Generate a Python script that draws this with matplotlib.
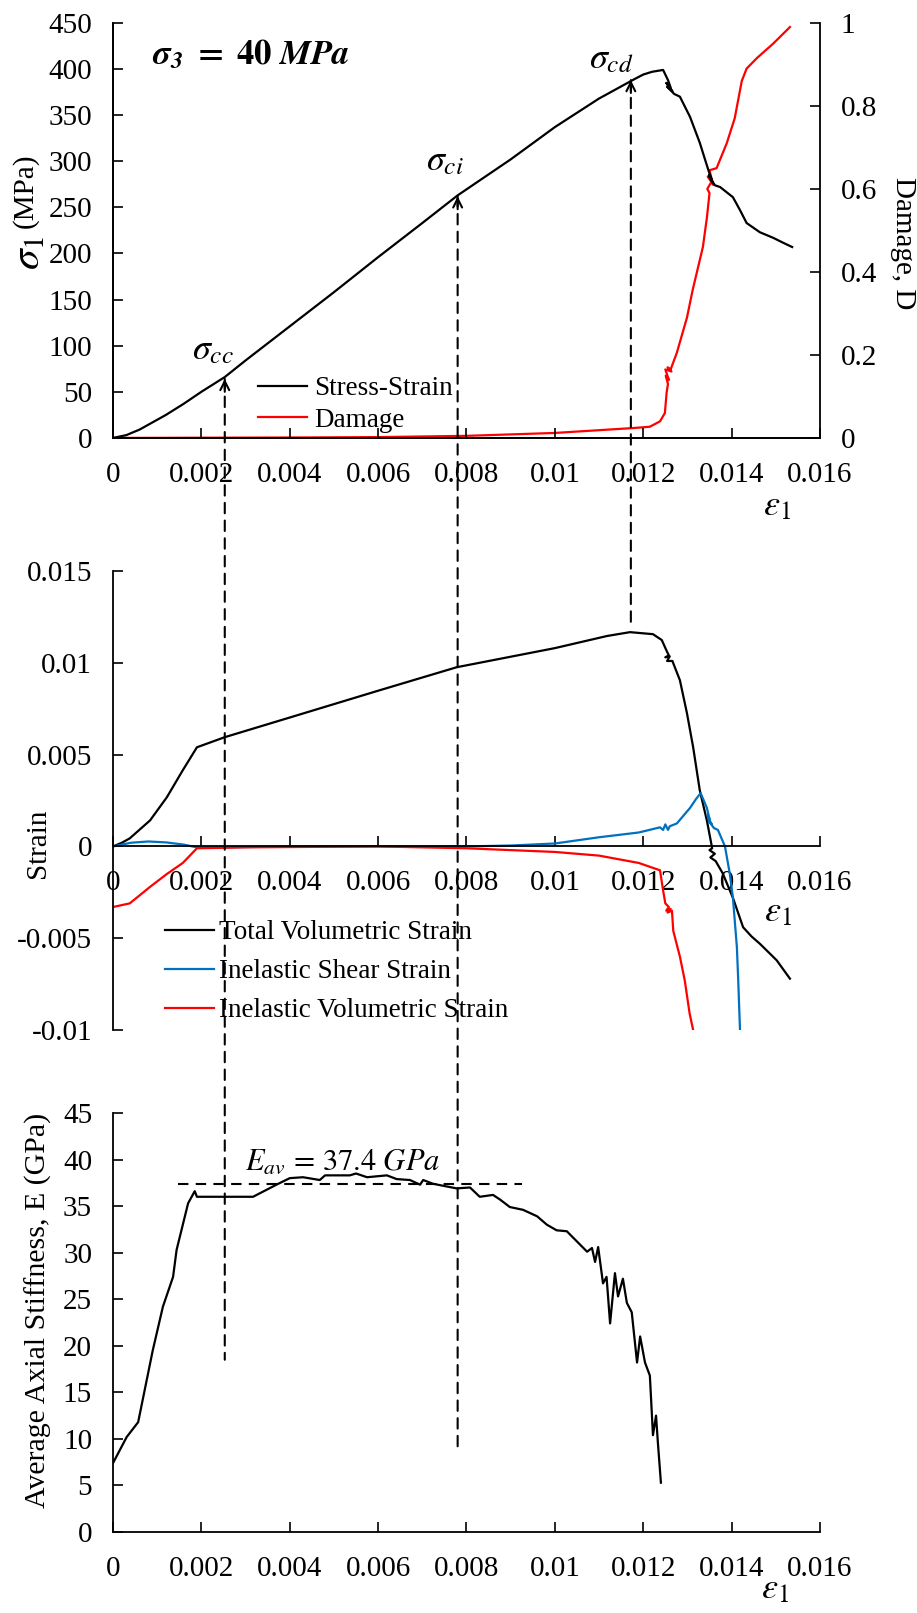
import matplotlib
matplotlib.use("Agg")
import matplotlib.pyplot as plt
from matplotlib.patches import ConnectionPatch

plt.rcParams['font.family'] = ['Liberation Serif', 'DejaVu Serif']
plt.rcParams['mathtext.fontset'] = 'stix'

# ---- top panel: stress-strain and damage ----
stress_eps = [0, 0.0003, 0.0006, 0.0009, 0.0012, 0.0016, 0.002, 0.00253, 0.003, 0.004, 0.005,
              0.006, 0.007, 0.0078, 0.009, 0.01, 0.011, 0.0118, 0.012, 0.0122, 0.01245,
              0.01256, 0.01262, 0.01252, 0.01266, 0.01254, 0.0127, 0.01283, 0.01306, 0.01328,
              0.01347, 0.01355, 0.01349, 0.01358, 0.0135, 0.01362, 0.01374, 0.01403, 0.01419,
              0.01434, 0.01464, 0.01494, 0.01515, 0.01537]
stress = [0, 3, 9, 17, 25, 37, 50, 66, 84, 121, 158, 196, 233, 263, 302, 337, 368, 389, 394,
          397, 399, 388, 380, 385, 376, 381, 373, 370, 348, 320, 291, 280, 285, 276, 283, 274,
          272, 261, 247, 233, 223, 217, 212, 207]

damage_eps = [0, 0.002, 0.004, 0.006, 0.008, 0.01, 0.0118, 0.01215, 0.01238, 0.01249, 0.01253,
              0.01256, 0.01251, 0.01258, 0.0125, 0.01264, 0.01255, 0.01262, 0.01276, 0.01299,
              0.01312, 0.01335, 0.01344, 0.0135, 0.01345, 0.01356, 0.01346, 0.01358, 0.0135,
              0.01366, 0.01389, 0.01407, 0.01423, 0.01434, 0.01457, 0.01494, 0.01532]
damage = [0, 0.0005, 0.001, 0.002, 0.005, 0.012, 0.024, 0.027, 0.04, 0.06, 0.11, 0.13, 0.15,
          0.14, 0.165, 0.16, 0.17, 0.165, 0.205, 0.29, 0.357, 0.46, 0.53, 0.59, 0.6, 0.62, 0.63,
          0.61, 0.645, 0.65, 0.71, 0.77, 0.86, 0.89, 0.915, 0.95, 0.99]

# ---- middle panel: strains ----
totvol_eps = [0, 0.0002, 0.00038, 0.00084, 0.00122, 0.00158, 0.0019, 0.00253, 0.004, 0.006,
              0.00778, 0.01, 0.01118, 0.0117, 0.01222, 0.01242, 0.01252, 0.01258, 0.0125,
              0.0126, 0.01254, 0.01266, 0.01283, 0.01299, 0.01313, 0.01328, 0.01344, 0.01356,
              0.0135, 0.01362, 0.01352, 0.01364, 0.0138, 0.01403, 0.01426, 0.01445, 0.01464,
              0.01502, 0.01532]
totvol = [0, 0.0002, 0.00044, 0.00142, 0.00268, 0.00415, 0.0054, 0.00595, 0.00702, 0.00848,
          0.00976, 0.0108, 0.01146, 0.01167, 0.01156, 0.01124, 0.0107, 0.0104, 0.0103, 0.01035,
          0.0101, 0.0101, 0.00905, 0.00725, 0.0054, 0.00305, 0.00142, -0.0001, -0.0002, -0.0004,
          -0.0006, -0.0008, -0.00147, -0.0028, -0.0044, -0.0049, -0.0053, -0.0062, -0.0072]

shear_eps = [0, 0.0004, 0.0008, 0.0012, 0.0016, 0.0019, 0.0025, 0.004, 0.006, 0.008, 0.009, 0.01,
             0.011, 0.0119, 0.01238, 0.01245, 0.0125, 0.01256, 0.0126, 0.01276, 0.01306, 0.0132,
             0.0133, 0.01344, 0.0135, 0.01345, 0.01355, 0.01348, 0.0136, 0.01369, 0.01385,
             0.01396, 0.01403, 0.01412, 0.01415, 0.01419]
shear = [0, 0.0002, 0.00027, 0.00022, 0.0001, -0.00005, -0.00005, 0, 0, 0, 0.00005, 0.00016,
         0.0005, 0.00076, 0.00104, 0.0009, 0.0012, 0.0009, 0.0011, 0.00125, 0.0021, 0.0026,
         0.0029, 0.0021, 0.0015, 0.0017, 0.0012, 0.0014, 0.001, 0.0009, 0, -0.0015, -0.0028,
         -0.0055, -0.0073, -0.01]

inelvol_eps = [0, 0.00038, 0.00084, 0.00122, 0.00158, 0.00186, 0.0019, 0.003, 0.006, 0.008,
               0.01, 0.011, 0.0119, 0.01238, 0.01245, 0.0125, 0.01258, 0.01252, 0.01262,
               0.01255, 0.01265, 0.01268, 0.01283, 0.01294, 0.01305, 0.01313]
inelvol = [-0.0033, -0.0031, -0.0022, -0.0015, -0.0009, -0.0002, -0.0001, -0.00005, 0, -0.0001,
           -0.0003, -0.0005, -0.0009, -0.0013, -0.0024, -0.0031, -0.0033, -0.0035, -0.0034,
           -0.0036, -0.0035, -0.0046, -0.006, -0.0073, -0.0091, -0.01]

# ---- bottom panel: average axial stiffness ----
stiff_eps = [0, 0.00031, 0.00057, 0.0009, 0.00113, 0.00136, 0.00144, 0.0017, 0.00185, 0.0019,
             0.0025, 0.00317, 0.0037, 0.004, 0.0043, 0.00468, 0.0048, 0.00536, 0.0055, 0.00575,
             0.0062, 0.00642, 0.00672, 0.00695, 0.00702, 0.00724, 0.00756, 0.00778, 0.00808,
             0.0083, 0.0086, 0.00876, 0.00898, 0.00928, 0.0096, 0.00982, 0.01004, 0.01027,
             0.0105, 0.01073, 0.01084, 0.01091, 0.01098, 0.01109, 0.01117, 0.01125, 0.01136,
             0.01143, 0.01154, 0.01163, 0.01174, 0.01186, 0.01193, 0.01204, 0.01215, 0.01222,
             0.01229, 0.01233, 0.0124]
stiffness = [7.4, 10.2, 11.8, 19.5, 24.2, 27.4, 30.3, 35.3, 36.6, 36.0, 36.0, 36.0, 37.3, 38.0,
             38.1, 37.8, 38.3, 38.3, 38.5, 38.1, 38.3, 37.9, 37.8, 37.3, 37.8, 37.4, 37.1, 36.9,
             37.0, 36.0, 36.2, 35.7, 34.9, 34.6, 33.9, 33.0, 32.4, 32.3, 31.2, 30.1, 30.5, 29.0,
             30.6, 26.7, 27.4, 22.4, 27.8, 25.3, 27.2, 24.6, 23.6, 18.2, 21.0, 18.2, 16.8, 10.4,
             12.5, 9.7, 5.3]

# thresholds (strain at cc, ci, cd) and where their dashed lines start / end
thr_eps = [0.00253, 0.0078, 0.01172]
thr_stress = [64, 262, 388]
thr_labels = [r'$\sigma_{cc}$', r'$\sigma_{ci}$', r'$\sigma_{cd}$']
thr_label_xy = [(0.00226, 95), (0.00751, 299), (0.01127, 410)]
E_av = 37.4
E_av_span = [0.00147, 0.00925]

xticks = [0, 0.002, 0.004, 0.006, 0.008, 0.01, 0.012, 0.014, 0.016]
xticklabels = ['0', '0.002', '0.004', '0.006', '0.008', '0.01', '0.012', '0.014', '0.016']

FS = 19.5     # legend text
TFS = 21      # tick labels / axis labels
MFS = 26      # math annotations
LW = 1.6

fig = plt.figure(figsize=(9.17, 16.13), dpi=100)
ax1 = fig.add_axes([0.1232, 0.7285, 0.7710, 0.2573])
ax2 = fig.add_axes([0.1232, 0.3614, 0.7710, 0.2846])
ax3 = fig.add_axes([0.1232, 0.0502, 0.7710, 0.2598])


def style(ax):
    ax.set_xlim(0, 0.016)
    ax.set_xticks(xticks)
    ax.set_xticklabels(xticklabels)
    ax.spines['top'].set_visible(False)
    ax.spines['right'].set_visible(False)
    for s in ax.spines.values():
        s.set_linewidth(1.3)
    ax.tick_params(axis='both', direction='in', length=7, width=1.2, labelsize=TFS)
    ax.tick_params(axis='x', pad=17)
    ax.tick_params(axis='y', pad=15)


# top panel
style(ax1)
ax1.set_ylim(0, 450)
ax1.set_yticks(range(0, 451, 50))
l1, = ax1.plot(stress_eps, stress, color='black', lw=LW, label='Stress-Strain')
axr = ax1.twinx()
axr.set_ylim(0, 1)
axr.set_yticks([0, 0.2, 0.4, 0.6, 0.8, 1])
axr.set_yticklabels(['0', '0.2', '0.4', '0.6', '0.8', '1'])
axr.spines['top'].set_visible(False)
for s in axr.spines.values():
    s.set_linewidth(1.3)
axr.tick_params(axis='y', direction='in', length=7, width=1.2, labelsize=TFS, pad=15)
l2, = axr.plot(damage_eps, damage, color='red', lw=LW, label='Damage')
ax1.set_zorder(axr.get_zorder() + 1)
ax1.patch.set_visible(False)
ax1.legend([l1, l2], ['Stress-Strain', 'Damage'], loc='upper left',
           bbox_to_anchor=(258 / 917, 1 - 376 / 1613), bbox_transform=fig.transFigure,
           frameon=False, fontsize=FS, handlelength=1.8, handletextpad=0.27,
           labelspacing=0.25, borderpad=0, borderaxespad=0)
ax1.text(-0.1245, 0.595, '(MPa)', transform=ax1.transAxes, rotation=90,
         ha='center', va='center', fontsize=TFS)
ax1.text(-0.118, 0.447, r'$\sigma_1$', transform=ax1.transAxes, rotation=90,
         ha='center', va='center', fontsize=30)
axr.text(1.117, 0.47, 'Damage, D', transform=axr.transAxes, rotation=270,
         ha='center', va='center', fontsize=TFS)
ax1.text(0.00088, 415, r'$\mathbfit{\sigma_3}\ \mathbf{=\ 40}\ \mathbfit{MPa}$',
         fontsize=25, ha='left', va='center')
ax1.text(0.01503, -75, r'$\varepsilon_1$', fontsize=MFS, ha='center', va='center')
for lab, (lx, ly) in zip(thr_labels, thr_label_xy):
    ax1.text(lx, ly, lab, fontsize=MFS, ha='center', va='center')

# middle panel
style(ax2)
ax2.set_ylim(-0.01, 0.015)
ax2.set_yticks([-0.01, -0.005, 0, 0.005, 0.01, 0.015])
ax2.set_yticklabels(['-0.01', '-0.005', '0', '0.005', '0.01', '0.015'])
ax2.spines['bottom'].set_position(('data', 0))
m1, = ax2.plot(totvol_eps, totvol, color='black', lw=LW)
m2, = ax2.plot(shear_eps, shear, color='#0070C0', lw=LW)
m3, = ax2.plot(inelvol_eps, inelvol, color='red', lw=LW)
ax2.legend([m1, m2, m3], ['Total Volumetric Strain', 'Inelastic Shear Strain',
                          'Inelastic Volumetric Strain'], loc='upper left',
           bbox_to_anchor=(165 / 917, 1 - 920 / 1613), bbox_transform=fig.transFigure,
           frameon=False, fontsize=FS, handlelength=1.8, handletextpad=0.2,
           labelspacing=0.52, borderpad=0, borderaxespad=0)
ax2.text(-0.106, 0.407, 'Strain', transform=ax2.transAxes, rotation=90,
         ha='center', va='center', fontsize=TFS)
ax2.text(0.01505, -0.0036, r'$\varepsilon_1$', fontsize=MFS, ha='center', va='center')

# bottom panel
style(ax3)
ax3.set_ylim(0, 45)
ax3.set_yticks(range(0, 46, 5))
ax3.plot(stiff_eps, stiffness, color='black', lw=LW)
ax3.plot(E_av_span, [E_av, E_av], color='black', lw=1.5, ls=(0, (5, 3.5)))
ax3.text(0.0052, 39.7, r'$E_{av}\,=\,37.4\ GPa$', fontsize=22, ha='center', va='center')
ax3.text(-0.106, 0.53, 'Average Axial Stiffness, E (GPa)', transform=ax3.transAxes,
         rotation=90, ha='center', va='center', fontsize=TFS + 0.5)
ax3.text(0.01498, -6.2, r'$\varepsilon_1$', fontsize=MFS, ha='center', va='center')

# dashed threshold lines linking the panels
ends = [(ax3, 18.5), (ax3, 8.6), (ax2, 0.0121)]
for x, ytop, (axb, yb) in zip(thr_eps, thr_stress, ends):
    con = ConnectionPatch(xyA=(x, ytop), coordsA=ax1.transData, xyB=(x, yb),
                          coordsB=axb.transData, color='black', lw=1.5, ls=(0, (5, 3.5)))
    fig.add_artist(con)
    ax1.annotate('', xy=(x, ytop), xytext=(x, ytop - 14),
                 arrowprops=dict(arrowstyle='->', lw=1.5, color='black',
                                 shrinkA=0, shrinkB=0, mutation_scale=16))

fig.savefig('out.png', dpi=100)
